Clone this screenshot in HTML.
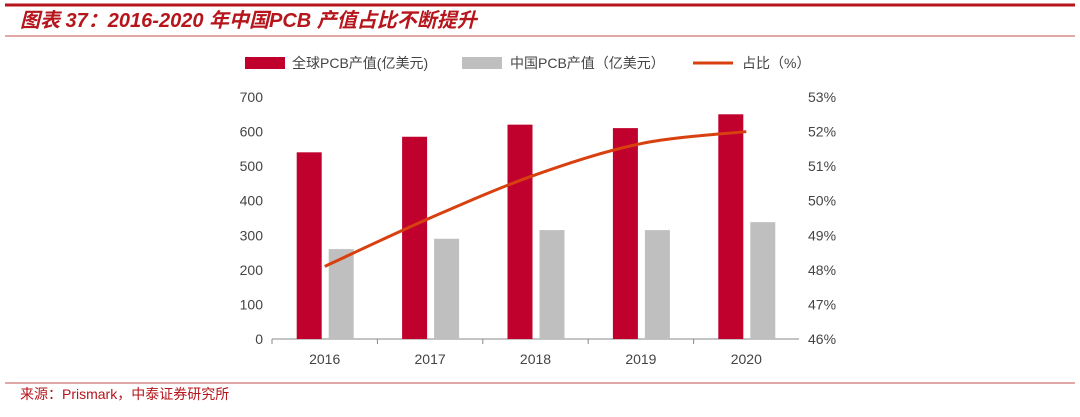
<!DOCTYPE html>
<html><head><meta charset="utf-8"><style>
body{margin:0;background:#fff;width:1080px;height:412px;overflow:hidden;font-family:"Liberation Sans","Noto Sans CJK SC",sans-serif}
svg text{font-family:"Liberation Sans","Noto Sans CJK SC",sans-serif}
</style></head><body>
<svg width="1080" height="412">
<line x1="5" y1="5" x2="1075" y2="5" stroke="#b5151b" stroke-width="3"/>
<text x="20" y="27" font-size="20" font-weight="bold" font-style="italic" fill="#b5151b">图表 37：2016-2020 年中国PCB 产值占比不断提升</text>
<line x1="5" y1="36" x2="1075" y2="36" stroke="#c0504d" stroke-width="1"/>
<g>
<rect x="245" y="57" width="40" height="12" fill="#c0002d"/>
<text x="292" y="68" font-size="14" fill="#444" font-family="Noto Serif CJK SC,serif">全球PCB产值(亿美元)</text>
<rect x="462" y="57" width="40" height="12" fill="#bfbfbf"/>
<text x="510" y="68" font-size="14" fill="#444">中国PCB产值（亿美元）</text>
<line x1="693" y1="63" x2="733" y2="63" stroke="#d9400f" stroke-width="3"/>
<text x="742" y="68" font-size="14" fill="#444">占比（%）</text>
</g>
<g id="plot"></g>
<line x1="5" y1="383" x2="1075" y2="383" stroke="#c0504d" stroke-width="1"/>
<text x="20" y="399" font-size="14" fill="#b5151b">来源：Prismark，中泰证券研究所</text>
</svg>
<script>
const years=["2016","2017","2018","2019","2020"];
const globalVals=[540,585,620,610,650];
const chinaVals=[260,290,315,315,338];
const shareVals=[48.1,49.5,50.75,51.65,52.0];
const leftTicks=[0,100,200,300,400,500,600,700];
const rightTicks=[46,47,48,49,50,51,52,53];
const NS="http://www.w3.org/2000/svg";
const g=document.getElementById('plot');
const x0=272,x1=799,yb=339,yt=97;
const bw=(x1-x0)/years.length;
const yL=v=>yb-(v/700)*(yb-yt);
const yR=v=>yb-((v-46)/7)*(yb-yt);
const xc=i=>x0+bw*(i+0.5);
function mk(t,a){const e=document.createElementNS(NS,t);for(const k in a)e.setAttribute(k,a[k]);g.appendChild(e);return e;}
let e=mk('line',{x1:x0,y1:yb,x2:x1,y2:yb,stroke:'#888'});

leftTicks.forEach(v=>{const t=mk('text',{x:263,y:yL(v)+5,'font-size':14,fill:'#444','text-anchor':'end'});t.textContent=v;
});
rightTicks.forEach(v=>{const t=mk('text',{x:808,y:yR(v)+5,'font-size':14,fill:'#444'});t.textContent=v+'%';
});
years.forEach((y,i)=>{
const c=xc(i);
const r=mk('rect',{x:c-28,y:yL(globalVals[i]),width:25,height:yb-yL(globalVals[i]),fill:'#c0002d'});

const r2=mk('rect',{x:c+4,y:yL(chinaVals[i]),width:25,height:yb-yL(chinaVals[i]),fill:'#bfbfbf'});

const t=mk('text',{x:c,y:364,'font-size':14,fill:'#444','text-anchor':'middle'});t.textContent=y;

const k=mk('line',{x1:x0+bw*i,y1:yb,x2:x0+bw*i,y2:yb+5,stroke:'#888'});

});
const pts=shareVals.map((v,i)=>[xc(i),yR(v)]);
let d='M'+pts[0][0]+','+pts[0][1];
for(let i=0;i<pts.length-1;i++){const p0=pts[Math.max(0,i-1)],p1=pts[i],p2=pts[i+1],p3=pts[Math.min(pts.length-1,i+2)];
d+=' C'+(p1[0]+(p2[0]-p0[0])/6)+','+(p1[1]+(p2[1]-p0[1])/6)+' '+(p2[0]-(p3[0]-p1[0])/6)+','+(p2[1]-(p3[1]-p1[1])/6)+' '+p2[0]+','+p2[1];}
const l=mk('path',{d:d,fill:'none',stroke:'#d9400f','stroke-width':3});

</script>
</body></html>
